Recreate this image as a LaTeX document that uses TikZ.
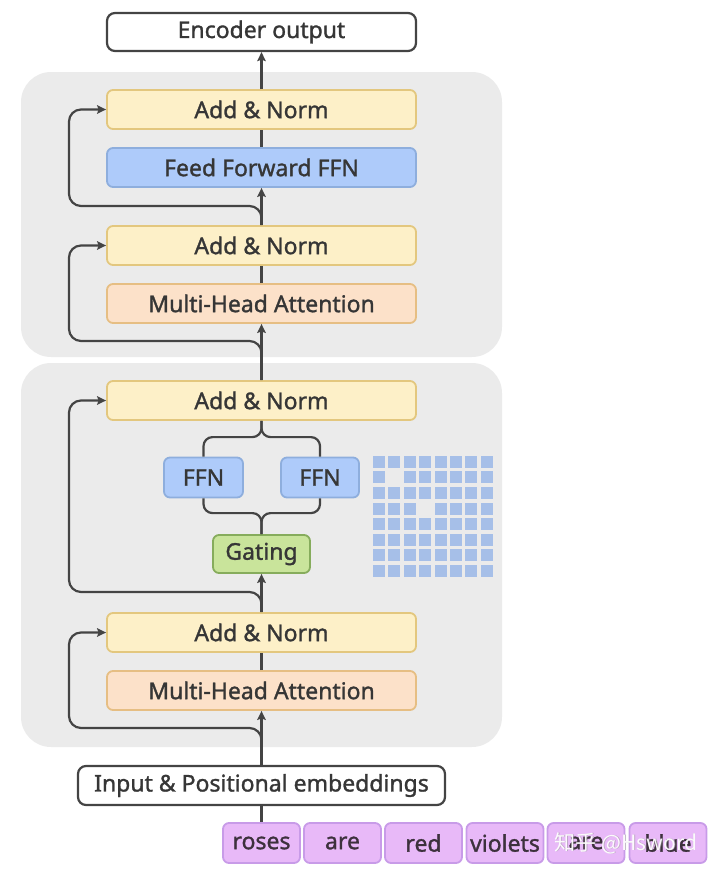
\documentclass[tikz,border=0pt]{standalone}
\usepackage{fontspec}
\setmainfont{Noto Sans}[BoldFont=Noto Sans, BoldFeatures={FakeBold=1.3}]
\newfontfamily\cjkfont{Noto Sans CJK SC}
\usetikzlibrary{arrows.meta}
\definecolor{ln}{HTML}{444444}
\definecolor{txt}{HTML}{363636}
\definecolor{blockgray}{HTML}{EBEBEB}
\definecolor{anfill}{HTML}{FDF0C8}
\definecolor{anline}{HTML}{E3C77E}
\definecolor{ffnfill}{HTML}{AECBFA}
\definecolor{ffnline}{HTML}{8EAEDD}
\definecolor{mhafill}{HTML}{FCE1C9}
\definecolor{mhaline}{HTML}{E6BE83}
\definecolor{gatefill}{HTML}{C9E49B}
\definecolor{gateline}{HTML}{86AC5C}
\definecolor{tokfill}{HTML}{E8B9F8}
\definecolor{tokline}{HTML}{C89BE8}
\definecolor{gridc}{HTML}{A6BFE8}
\begin{document}
\begin{tikzpicture}[x=1pt,y=-1pt,
  box/.style={draw, line width=1.8pt, rounded corners=6pt, minimum height=39pt, inner sep=0pt, text=txt, font=\fontsize{23}{27}\selectfont\bfseries},
  wide/.style={box, minimum width=309pt},
  addnorm/.style={wide, fill=anfill, draw=anline},
  ffnbox/.style={box, fill=ffnfill, draw=ffnline},
  mhabox/.style={wide, fill=mhafill, draw=mhaline},
  gatebox/.style={box, fill=gatefill, draw=gateline, minimum width=97pt, minimum height=38pt},
  plainbox/.style={box, fill=white, draw=ln, line width=2.2pt, rounded corners=8pt},
  tok/.style={box, fill=tokfill, draw=tokline, minimum width=77pt, minimum height=40pt, text=txt!90!violet},
  conn/.style={draw=ln, line width=2.2pt},
  arr/.style={-{Stealth[length=9pt,width=8.5pt,inset=1.5pt]}},
  res/.style={conn, arr, rounded corners=12pt}
]
\useasboundingbox (0,0) rectangle (720,875);
% gray blocks
\fill[blockgray, rounded corners=30pt] (21,72) rectangle (502,357);
\fill[blockgray, rounded corners=30pt] (21,363) rectangle (502,747);

% nodes
\node[plainbox, minimum width=309pt, minimum height=38pt] (enc) at (261.5,32) {Encoder output};
\node[addnorm] (an1) at (261.5,109.5) {Add \& Norm};
\node[ffnbox, minimum width=309pt] (ffn) at (261.5,167.5) {Feed Forward FFN};
\node[addnorm] (an2) at (261.5,245.5) {Add \& Norm};
\node[mhabox] (mha1) at (261.5,303.5) {Multi-Head Attention};
\node[addnorm] (an3) at (261.5,400.5) {Add \& Norm};
\node[ffnbox, minimum width=79pt, minimum height=40pt] (ffnL) at (203.5,477.5) {FFN};
\node[ffnbox, minimum width=78pt, minimum height=40pt] (ffnR) at (320,477.5) {FFN};
\node[gatebox] (gate) at (261.5,554) {Gating};
\node[addnorm] (an4) at (261.5,632.5) {Add \& Norm};
\node[mhabox] (mha2) at (261.5,690.5) {Multi-Head Attention};
\node[plainbox, minimum width=367pt] (inp) at (261.5,785.5) {Input \& Positional embeddings};

\node[tok] (t1) at (261.5,843) {roses};
\node[tok] (t2) at (342.5,843) {are};
\node[tok] (t3) at (423.5,843) {red};
\node[tok] (t4) at (505,843) {violets};
\node[tok] (t5) at (586,843) {are};
\node[tok] (t6) at (668,843) {blue};

% grid
\foreach \r in {0,...,7}{
  \foreach \c in {0,...,7}{
    \pgfmathtruncatemacro\gskip{(\r==1 && \c==1) || (\r==3 && \c==3)}
    \ifnum\gskip=0
      \fill[gridc] (372.7+15.45*\c,455.7+15.6*\r) rectangle ++(12,12);
    \fi
  }
}

% main line
\draw[conn] (inp.south) -- (t1.north);
\draw[conn,arr] (inp.north) -- (mha2.south);
\draw[conn] (mha2.north) -- (an4.south);
\draw[conn,arr] (an4.north) -- (gate.south);
\draw[conn, rounded corners=9pt] (gate.north) -- ++(0,-21) -| (ffnL.south);
\draw[conn, rounded corners=9pt] (gate.north) -- ++(0,-21) -| (ffnR.south);
\draw[conn, rounded corners=9pt] (ffnL.north) -- ++(0,-19.5) -| (an3.south);
\draw[conn, rounded corners=9pt] (ffnR.north) -- ++(0,-19.5) -| (an3.south);
\draw[conn,arr] (an3.north) -- (mha1.south);
\draw[conn] (mha1.north) -- (an2.south);
\draw[conn,arr] (an2.north) -- (ffn.south);
\draw[conn] (ffn.north) -- (an1.south);
\draw[conn,arr] (an1.north) -- (enc.south);

% residuals
\coordinate (c1) at (69,728);
\coordinate (c2) at (69,592);
\coordinate (c3) at (69,341);
\coordinate (c4) at (69,206);
\draw[res] (inp.north) |- (c1) |- (an4.west);
\draw[res] (an4.north) |- (c2) |- (an3.west);
\draw[res] (an3.north) |- (c3) |- (an2.west);
\draw[res] (an2.north) |- (c4) |- (an1.west);

% watermark
\node[font=\cjkfont\fontsize{21}{24}\selectfont, text=black!40, opacity=0.5] at (626.8,843.8) {知乎 @Hsword};
\node[font=\cjkfont\fontsize{21}{24}\selectfont, text=white, opacity=0.95] (wm) at (626,843) {知乎 @Hsword};
\end{tikzpicture}
\end{document}
